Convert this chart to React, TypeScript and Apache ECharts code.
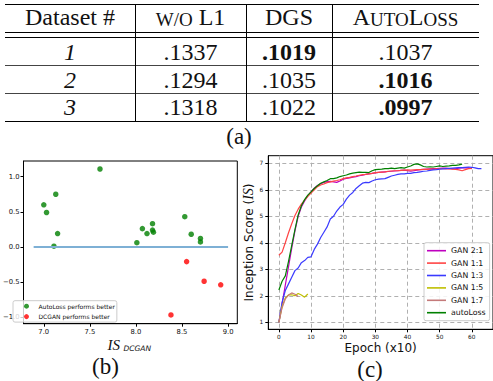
import React, { useEffect, useRef } from 'react';
import * as echarts from 'echarts';

// ---------- (a) table ----------
const datasetIds = ['1', '2', '3'];
const woL1Errors = [0.1337, 0.1294, 0.1318];
const dgsErrors = [0.1019, 0.1035, 0.1022];
const autoLossErrors = [0.1037, 0.1016, 0.0997];

// ---------- (b) scatter ----------
const autoLossBetterX = [7.0, 7.03, 7.13, 7.61, 7.15, 7.11, 8.01, 8.07, 8.12, 8.18, 8.18, 8.19, 8.53, 8.6, 8.7, 8.7];
const autoLossBetterY = [0.6, 0.49, 0.75, 1.11, 0.19, 0.01, 0.06, 0.26, 0.19, 0.33, 0.24, 0.21, 0.43, 0.18, 0.12, 0.07];
const dcganBetterX = [8.55, 8.74, 8.92, 8.38];
const dcganBetterY = [-0.21, -0.49, -0.54, -0.97];
const zeroLineX = [6.89, 9.0];
const scatterXTicks = [7.0, 7.5, 8.0, 8.5, 9.0];
const scatterYTicks = [-1.0, -0.5, 0.0, 0.5, 1.0];

// ---------- (c) inception score curves (index = epoch x10) ----------
const gan21 = [1.0, 1.7, 2.4, 3.1, 3.8, 4.45, 5.0, 5.35, 5.58, 5.77, 5.92, 6.06, 6.16, 6.23, 6.28, 6.31, 6.32, 6.3, 6.28, 6.33, 6.4, 6.43, 6.45, 6.48, 6.5, 6.53, 6.55, 6.58, 6.6, 6.62, 6.64, 6.66, 6.67, 6.68, 6.69, 6.7, 6.71, 6.72, 6.73, 6.74, 6.72, 6.7, 6.72, 6.74, 6.76, 6.77, 6.78, 6.79, 6.8, 6.8, 6.81, 6.82, 6.82, 6.8, 6.79, 6.8, 6.82, 6.83, 6.84, 6.83, 6.8];
const gan11 = [3.53, 3.65, 4.0, 4.38, 4.72, 5.03, 5.27, 5.46, 5.61, 5.75, 5.88, 6.0, 6.12, 6.18, 6.22, 6.27, 6.3, 6.33, 6.35, 6.38, 6.42, 6.45, 6.47, 6.5, 6.52, 6.55, 6.57, 6.58, 6.6, 6.62, 6.65, 6.66, 6.67, 6.68, 6.7, 6.71, 6.72, 6.72, 6.73, 6.74, 6.75, 6.74, 6.75, 6.76, 6.76, 6.77, 6.77, 6.78, 6.78, 6.79, 6.8, 6.8, 6.79, 6.8, 6.78, 6.77, 6.75, 6.72, 6.76, 6.8, 6.81];
const gan13 = [1.0, 1.75, 2.2, 2.45, 2.7, 2.95, 3.05, 3.25, 3.33, 3.45, 3.47, 3.75, 3.95, 4.2, 4.4, 4.6, 4.9, 5.0, 5.2, 5.35, 5.45, 5.65, 5.8, 5.9, 6.05, 6.15, 6.25, 6.28, 6.27, 6.33, 6.38, 6.4, 6.41, 6.42, 6.47, 6.52, 6.55, 6.58, 6.6, 6.6, 6.62, 6.62, 6.65, 6.66, 6.68, 6.7, 6.71, 6.73, 6.75, 6.76, 6.78, 6.79, 6.8, 6.81, 6.82, 6.83, 6.84, 6.84, 6.85, 6.86, 6.85, 6.83, 6.8, 6.8];
const gan15 = [1.0, 1.6, 1.92, 2.03, 2.04, 2.0, 2.09, 2.03, 1.95, 2.07];
const gan17 = [1.0, 1.55, 1.88, 2.03, 2.11, 2.06, 1.97];
const autoLossIS = [2.22, 2.55, 2.75, 3.3, 3.9, 4.5, 5.05, 5.4, 5.63, 5.8, 5.92, 6.05, 6.15, 6.25, 6.3, 6.35, 6.42, 6.42, 6.45, 6.5, 6.53, 6.56, 6.6, 6.63, 6.65, 6.67, 6.66, 6.66, 6.65, 6.72, 6.76, 6.77, 6.78, 6.8, 6.8, 6.82, 6.8, 6.82, 6.84, 6.82, 6.86, 6.9, 6.96, 6.98, 6.94, 6.88, 6.86, 6.87, 6.86, 6.88, 6.9, 6.88, 6.89, 6.9, 6.92, 6.92, 6.94, 6.97];
const epochTicks = [0, 10, 20, 30, 40, 50, 60];
const isTicks = [1, 2, 3, 4, 5, 6, 7];

const lineSeriesDefs = [
  { name: 'GAN 2:1', data: gan21, color: '#bf00bf' },
  { name: 'GAN 1:1', data: gan11, color: '#ff4444' },
  { name: 'GAN 1:3', data: gan13, color: '#3a3aff' },
  { name: 'GAN 1:5', data: gan15, color: '#bfbf00' },
  { name: 'GAN 1:7', data: gan17, color: '#c47a7a' },
  { name: 'autoLoss', data: autoLossIS, color: '#008000' },
];

const fmtErr = (v: number) => v.toFixed(4).replace(/^0/, '');

function buildTable(): any[] {
  const els: any[] = [];
  const serif = 'Liberation Serif, Times New Roman, serif';
  const L = 5, R = 479;
  const hLines = [
    { y: 4.5, w: 1, c: '#000' },
    { y: 32.5, w: 1, c: '#000' },
    { y: 37.5, w: 1, c: '#000' },
    { y: 65.5, w: 1.2, c: '#444' },
    { y: 93.5, w: 1.2, c: '#444' },
    { y: 121.5, w: 1, c: '#000' },
  ];
  hLines.forEach((h) =>
    els.push({ type: 'line', shape: { x1: L, y1: h.y, x2: R, y2: h.y }, style: { stroke: h.c, lineWidth: h.w } })
  );
  [135.5, 246.5, 332.5].forEach((x) =>
    els.push({ type: 'line', shape: { x1: x, y1: 4, x2: x, y2: 122 }, style: { stroke: '#000', lineWidth: 1 } })
  );
  const colX = [70, 190.5, 289, 405.5];
  const headerY = 17;
  const rowY = [52, 79.5, 107];
  const big = { fontFamily: serif, fontSize: 24, fill: '#111', verticalAlign: 'bottom' };
  const small = { fontFamily: serif, fontSize: 19, fill: '#111', verticalAlign: 'bottom' };
  const headers = [
    '{b|Dataset #}',
    '{s|W/O}{b| L1}',
    '{b|DGS}',
    '{b|A}{s|UTO}{b|L}{s|OSS}',
  ];
  headers.forEach((t, i) =>
    els.push({
      type: 'text',
      x: colX[i],
      y: headerY,
      style: { text: t, align: 'center', verticalAlign: 'middle', rich: { b: big, s: small } },
    })
  );
  datasetIds.forEach((id, r) => {
    const vals = [woL1Errors[r], dgsErrors[r], autoLossErrors[r]];
    const best = Math.min(...vals);
    els.push({
      type: 'text',
      x: colX[0],
      y: rowY[r],
      style: { text: id, align: 'center', verticalAlign: 'middle', fontFamily: serif, fontSize: 24, fontStyle: 'italic', fill: '#111' },
    });
    vals.forEach((v, c) =>
      els.push({
        type: 'text',
        x: colX[c + 1],
        y: rowY[r],
        style: {
          text: fmtErr(v),
          align: 'center',
          verticalAlign: 'middle',
          fontFamily: serif,
          fontSize: 24,
          fontWeight: v === best ? 'bold' : 'normal',
          fill: '#111',
        },
      })
    );
  });
  return els;
}

function buildCaptions(): any[] {
  const serif = 'Liberation Serif, Times New Roman, serif';
  const cap = (text: string, x: number, y: number) => ({
    type: 'text',
    x,
    y,
    style: { text, align: 'center', verticalAlign: 'middle', fontFamily: serif, fontSize: 23, fill: '#111' },
  });
  return [
    cap('(a)', 239, 136),
    cap('(b)', 105.5, 366),
    cap('(c)', 370, 369),
    {
      type: 'text',
      x: 107.5,
      y: 345,
      style: { text: 'IS', align: 'left', verticalAlign: 'middle', fontFamily: serif, fontStyle: 'italic', fontSize: 15, fill: '#111' },
    },
    {
      type: 'text',
      x: 123.5,
      y: 348,
      style: { text: 'DCGAN', align: 'left', verticalAlign: 'middle', fontFamily: 'DejaVu Sans', fontStyle: 'italic', fontSize: 7.5, fill: '#111' },
    },
  ];
}

export default function App() {
  const ref = useRef<HTMLDivElement>(null);
  useEffect(() => {
    if (!ref.current) return;
    const chart = echarts.init(ref.current, undefined, { renderer: 'svg' });
    const sans = 'DejaVu Sans';
    const tickLine = { lineStyle: { color: '#000', width: 1 } };
    const option: any = {
      animation: false,
      backgroundColor: '#fff',
      textStyle: { fontFamily: sans },
      grid: [
        { left: 19.3, top: 161, width: 218, height: 162.7, show: true, borderColor: '#000', borderWidth: 1, backgroundColor: 'transparent' },
        { left: 268.3, top: 155.7, width: 233.4, height: 173.6, show: true, borderColor: '#000', borderWidth: 1, backgroundColor: 'transparent' },
      ],
      xAxis: [
        {
          type: 'value',
          gridIndex: 0,
          min: 6.78,
          max: 9.1,
          axisLine: { show: true, onZero: false, ...tickLine },
          axisTick: { show: true, length: 3, customValues: scatterXTicks, ...tickLine },
          axisLabel: { customValues: scatterXTicks, formatter: (v: number) => v.toFixed(1), fontSize: 6.8, color: '#111', margin: 5, fontFamily: sans },
          splitLine: { show: false },
        },
        {
          type: 'value',
          gridIndex: 1,
          min: -3.29,
          max: 66.6,
          name: 'Epoch (x10)',
          nameLocation: 'middle',
          nameGap: 13,
          nameTextStyle: { fontSize: 12, color: '#111', fontFamily: sans },
          axisLine: { show: true, onZero: false, ...tickLine },
          axisTick: { show: true, length: 3, customValues: epochTicks, ...tickLine },
          axisLabel: { customValues: epochTicks, fontSize: 5.8, color: '#111', margin: 5, fontFamily: sans },
          splitLine: { show: true, lineStyle: { color: '#b0b0b0', type: [4, 3], width: 1 } },
        },
      ],
      yAxis: [
        {
          type: 'value',
          gridIndex: 0,
          min: -1.095,
          max: 1.224,
          axisLine: { show: true, onZero: false, ...tickLine },
          axisTick: { show: true, length: 3, customValues: scatterYTicks, ...tickLine },
          axisLabel: {
            customValues: scatterYTicks,
            formatter: (v: number) => v.toFixed(1).replace('-', '\u2212'),
            fontSize: 6.8,
            color: '#111',
            margin: 4,
            fontFamily: sans,
          },
          splitLine: { show: false },
        },
        {
          type: 'value',
          gridIndex: 1,
          min: 0.736,
          max: 7.287,
          name: '{a|Inception Score (}{b|IS}{a|)}',
          nameLocation: 'middle',
          nameRotate: 90,
          nameGap: 11.5,
          nameTextStyle: {
            fontSize: 12,
            color: '#111',
            fontFamily: sans,
            rich: {
              a: { fontSize: 12, fontFamily: sans, color: '#111' },
              b: { fontSize: 14, fontFamily: 'Liberation Serif', fontStyle: 'italic', color: '#111' },
            },
          },
          axisLine: { show: true, onZero: false, ...tickLine },
          axisTick: { show: true, length: 3, customValues: isTicks, ...tickLine },
          axisLabel: { customValues: isTicks, fontSize: 5.8, color: '#111', margin: 5, fontFamily: sans },
          splitLine: { show: true, lineStyle: { color: '#b0b0b0', type: [4, 3], width: 1 } },
        },
      ],
      legend: [
        {
          data: ['AutoLoss performs better', 'DCGAN performs better'],
          orient: 'vertical',
          left: 13,
          top: 300.7,
          icon: 'circle',
          itemWidth: 14,
          itemHeight: 5,
          itemGap: 4.4,
          padding: [2.5, 2, 2.5, 11],
          backgroundColor: 'rgba(255,255,255,0.8)',
          borderColor: '#cccccc',
          borderWidth: 1,
          borderRadius: 2,
          selectedMode: false,
          textStyle: { fontSize: 6, color: '#111', fontFamily: sans },
        },
        {
          data: lineSeriesDefs.map((d) => ({ name: d.name, icon: 'rect' })),
          orient: 'vertical',
          left: 424,
          top: 242.7,
          itemWidth: 19,
          itemHeight: 1.6,
          itemGap: 4.4,
          padding: [4, 4, 4, 3],
          backgroundColor: 'rgba(255,255,255,0.85)',
          borderColor: '#cccccc',
          borderWidth: 1,
          borderRadius: 2,
          selectedMode: false,
          textStyle: { fontSize: 7.8, color: '#111', fontFamily: sans },
        },
      ],
      graphic: [...buildTable(), ...buildCaptions()],
      series: [
        {
          type: 'line',
          name: 'zero',
          xAxisIndex: 0,
          yAxisIndex: 0,
          data: zeroLineX.map((x) => [x, 0]),
          symbol: 'none',
          lineStyle: { color: '#7eb0d5', width: 2 },
          silent: true,
        },
        {
          type: 'scatter',
          name: 'AutoLoss performs better',
          xAxisIndex: 0,
          yAxisIndex: 0,
          data: autoLossBetterX.map((x, i) => [x, autoLossBetterY[i]]),
          symbolSize: 5.5,
          itemStyle: { color: '#008000' },
        },
        {
          type: 'scatter',
          name: 'DCGAN performs better',
          xAxisIndex: 0,
          yAxisIndex: 0,
          data: dcganBetterX.map((x, i) => [x, dcganBetterY[i]]),
          symbolSize: 5.5,
          itemStyle: { color: '#ff0000' },
        },
        ...lineSeriesDefs.map((d) => ({
          type: 'line',
          name: d.name,
          xAxisIndex: 1,
          yAxisIndex: 1,
          data: d.data.map((v, i) => [i, v]),
          symbol: 'none',
          color: d.color,
          lineStyle: { color: d.color, width: 1.2 },
          itemStyle: { color: d.color },
        })),
      ],
    };
    chart.setOption(option);
    return () => chart.dispose();
  }, []);
  return (
    <div
      ref={ref}
      style={{ position: 'fixed', left: 0, top: 0, width: 493, height: 381, background: '#fff' }}
    />
  );
}
